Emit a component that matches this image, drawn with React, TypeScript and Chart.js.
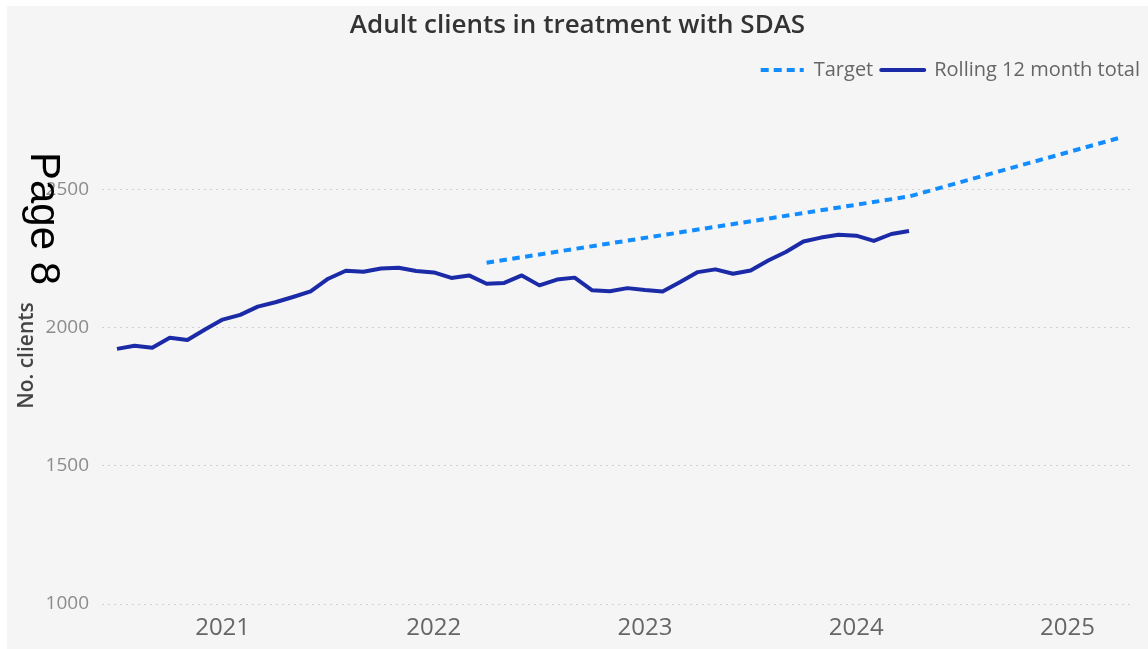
import { useEffect, useRef } from "react";
import { Chart, registerables } from "chart.js";

Chart.register(...registerables);

const chartTitle = "Adult clients in treatment with SDAS";
const yAxisTitle = "No. clients";
const pageLabel = "Page 8";
const targetLabel = "Target";
const rollingLabel = "Rolling 12 month total";

const rollingMonths = [
  "2020-07", "2020-08", "2020-09", "2020-10", "2020-11", "2020-12",
  "2021-01", "2021-02", "2021-03", "2021-04", "2021-05", "2021-06",
  "2021-07", "2021-08", "2021-09", "2021-10", "2021-11", "2021-12",
  "2022-01", "2022-02", "2022-03", "2022-04", "2022-05", "2022-06",
  "2022-07", "2022-08", "2022-09", "2022-10", "2022-11", "2022-12",
  "2023-01", "2023-02", "2023-03", "2023-04", "2023-05", "2023-06",
  "2023-07", "2023-08", "2023-09", "2023-10", "2023-11", "2023-12",
  "2024-01", "2024-02", "2024-03", "2024-04",
];
const rollingValues = [
  1924, 1935, 1928, 1964, 1956, 1994,
  2030, 2047, 2077, 2093, 2112, 2132,
  2178, 2207, 2203, 2215, 2218, 2206,
  2201, 2181, 2190, 2160, 2163, 2190,
  2154, 2175, 2182, 2136, 2133, 2144,
  2137, 2132, 2166, 2202, 2212, 2196,
  2208, 2244, 2275, 2313, 2327, 2337,
  2334, 2315, 2340, 2351,
];

const targetMonths = ["2022-04", "2024-04", "2025-04"];
const targetValues = [2236, 2476, 2689];

const yearTicks = [2021, 2022, 2023, 2024, 2025];
const valueTicks = [1000, 1500, 2000, 2500];

const FONT = "'Open Sans', 'Noto Sans', sans-serif";

function monthToYear(m: string): number {
  const [y, mo] = m.split("-").map(Number);
  return y + (mo - 1) / 12;
}

export default function App() {
  const canvasRef = useRef<HTMLCanvasElement | null>(null);

  useEffect(() => {
    const canvas = canvasRef.current;
    if (!canvas) return;
    Chart.defaults.font.family = FONT;
    const chart = new Chart(canvas, {
      type: "line",
      data: {
        datasets: [
          {
            label: targetLabel,
            data: targetMonths.map((m, i) => ({ x: monthToYear(m), y: targetValues[i] })),
            borderColor: "#118dff",
            backgroundColor: "rgba(0,0,0,0)",
            borderWidth: 4,
            borderDash: [7.5, 5.5],
            pointRadius: 0,
            fill: false,
            tension: 0,
          },
          {
            label: rollingLabel,
            data: rollingMonths.map((m, i) => ({ x: monthToYear(m), y: rollingValues[i] })),
            borderColor: "#1b2aa6",
            backgroundColor: "rgba(0,0,0,0)",
            borderWidth: 4,
            pointRadius: 0,
            fill: false,
            tension: 0,
            borderJoinStyle: "round",
          },
        ],
      },
      options: {
        animation: false,
        responsive: false,
        maintainAspectRatio: false,
        layout: { padding: { left: 0, right: 0, top: 0, bottom: 0 } },
        plugins: {
          title: {
            display: true,
            text: chartTitle,
            color: "#333333",
            font: { family: FONT, size: 26, weight: "600" },
            padding: { top: 4, bottom: 10.8 },
          },
          subtitle: {
            display: true,
            text: " ",
            weight: 500,
            font: { size: 10, lineHeight: 1 },
            padding: { top: 7, bottom: 0 },
          } as any,
          legend: {
            position: "top",
            align: "end",
            labels: {
              usePointStyle: false,
              boxWidth: 43,
              boxHeight: 0,
              padding: 8,
              color: "#666666",
              font: { family: FONT, size: 20 },
            },
          },
          tooltip: { enabled: false },
        },
        scales: {
          x: {
            type: "linear",
            min: 2020.429,
            max: 2025.301,
            grid: { display: false, drawTicks: false },
            border: { display: false },
            ticks: {
              padding: 12,
              color: "#666666",
              font: { family: FONT, size: 24, lineHeight: 1 },
              callback: (v: any) => String(v),
            },
            afterBuildTicks: (axis: any) => {
              axis.ticks = yearTicks.map((v) => ({ value: v }));
            },
            afterFit: (s: any) => {
              s.paddingRight = 17;
            },
          },
          y: {
            type: "linear",
            min: 1000,
            max: 2800,
            grid: { color: "#cfcfcf", lineWidth: 1, drawTicks: false },
            border: { display: false, dash: [2, 4] },
            ticks: {
              padding: 13,
              color: "#8c8c8c",
              font: { family: FONT, size: 19 },
              callback: (v: any) => String(v),
            },
            afterBuildTicks: (axis: any) => {
              axis.ticks = valueTicks.map((v) => ({ value: v }));
            },
            afterFit: (s: any) => {
              s.width = 95;
            },
            title: {
              display: true,
              text: yAxisTitle,
              color: "#444444",
              font: { family: FONT, size: 21, weight: "600" },
              padding: 7,
            },
          },
        },
      },
    } as any);
    return () => chart.destroy();
  }, []);

  return (
    <>
      <div
        style={{
          position: "fixed",
          left: 7,
          top: 6,
          width: 1141,
          height: 646,
          background: "#f5f5f5",
        }}
      >
        <canvas ref={canvasRef} width={1141} height={646} style={{ display: "block" }} />
      </div>
      <div
        style={{
          position: "fixed",
          left: 66,
          top: 152,
          transform: "rotate(90deg)",
          transformOrigin: "0 0",
          fontFamily: "'Liberation Sans', Arial, sans-serif",
          fontSize: 42,
          lineHeight: 1,
          whiteSpace: "nowrap",
          color: "#000",
        }}
      >
        {pageLabel}
      </div>
    </>
  );
}
